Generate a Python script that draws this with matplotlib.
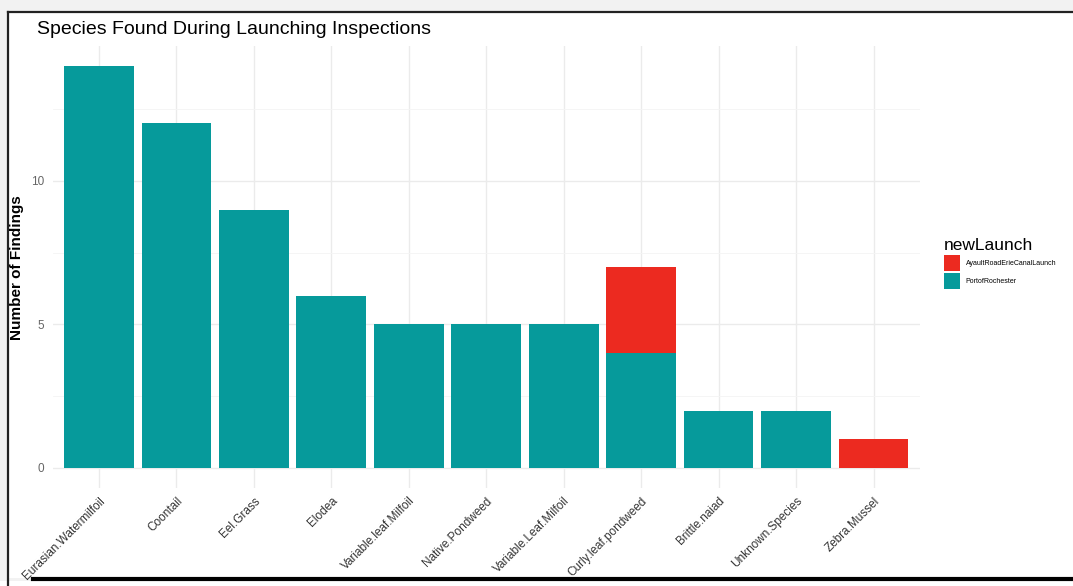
import matplotlib.pyplot as plt
from matplotlib.lines import Line2D
from matplotlib.patches import Patch, Rectangle
import numpy as np

OUT = "out.png"

SPECIES = [
    "Eurasian.Watermilfoil", "Coontail", "Eel.Grass", "Elodea",
    "Variable.leaf.Milfoil", "Native.Pondweed", "Variable.Leaf.Milfoil",
    "Curly.leaf.pondweed", "Brittle.naiad", "Unknown.Species", "Zebra.Mussel",
]
PORT_ROCHESTER = [14, 12, 9, 6, 5, 5, 5, 4, 2, 2, 0]
AYAULT_ROAD = [0, 0, 0, 0, 0, 0, 0, 3, 0, 0, 1]
LAUNCHES = ["AyaultRoadErieCanalLaunch", "PortofRochester"]

RED = "#EC2A20"
TEAL = "#069A9B"
GRID = "#ebebeb"
FONT = ["Liberation Sans", "DejaVu Sans"]

plt.rcParams["font.family"] = FONT

W, H = 1073, 586


def px(x, y):
    # pixel coords (from top-left) to figure fraction
    return x / W, 1 - y / H


def main():
    fig = plt.figure(figsize=(W / 100, H / 100), dpi=100)
    fig.patch.set_facecolor("#f2f2f2")

    # screenshot frame
    x0, y0 = px(8, 12)
    x1, y1 = px(W, 578)
    fig.add_artist(Rectangle((x0, y1), x1 - x0, y0 - y1, transform=fig.transFigure,
                             facecolor="white", edgecolor="none", zorder=-10))
    fig.add_artist(Line2D([x0, x0], [0, y0], transform=fig.transFigure,
                          color="#222222", lw=1.6))
    fig.add_artist(Line2D([x0, 1], [y0, y0], transform=fig.transFigure,
                          color="#222222", lw=1.6))
    bx, by = px(33, 579)
    fig.add_artist(Line2D([bx, 1], [by, by], transform=fig.transFigure,
                          color="black", lw=3))
    fig.add_artist(Rectangle((0, 0), 1, by - 0.003, transform=fig.transFigure,
                             facecolor="white", edgecolor="none", zorder=-9))

    left, top = px(52.5, 46)
    right, bottom = px(920, 488)
    ax = fig.add_axes([left, bottom, right - left, top - bottom])
    ax.set_facecolor("none")

    x = np.arange(len(SPECIES))
    port = np.array(PORT_ROCHESTER)
    ayault = np.array(AYAULT_ROAD)
    ax.bar(x, port, width=0.9, color=TEAL, zorder=3)
    ax.bar(x, ayault, width=0.9, bottom=port, color=RED, zorder=3)

    ax.set_xlim(-0.6, len(SPECIES) - 0.4)
    ax.set_ylim(-0.7, 14.7)
    ax.set_yticks([0, 5, 10])
    ax.set_yticks([2.5, 7.5, 12.5], minor=True)
    ax.set_xticks(x)
    ax.set_xticklabels(SPECIES, rotation=45, ha="right", rotation_mode="anchor",
                       fontsize=8.5, color="#333333")
    ax.tick_params(axis="both", which="both", length=0, pad=3)
    ax.tick_params(axis="y", labelsize=8.5, labelcolor="#666666", pad=6)
    ax.tick_params(axis="x", pad=5)
    ax.grid(True, which="major", color=GRID, lw=1.0, zorder=0)
    ax.grid(True, which="minor", axis="y", color="#f4f4f4", lw=0.6, zorder=0)
    for s in ax.spines.values():
        s.set_visible(False)

    fig.text(*px(17, 268), "Number of Findings", rotation=90, ha="center",
             va="center", fontsize=11, fontweight="bold", color="black")
    fig.text(*px(37, 29), "Species Found During Launching Inspections",
             ha="left", va="center", fontsize=14, color="black")

    handles = [Patch(facecolor=RED), Patch(facecolor=TEAL)]
    leg = fig.legend(handles, LAUNCHES, loc="upper left",
                     bbox_to_anchor=px(938, 232), frameon=False,
                     prop={"size": 5}, title="newLaunch",
                     title_fontproperties={"size": 12.5},
                     handlelength=2.4, handleheight=3.1, labelspacing=0.35,
                     handletextpad=0.8, borderpad=0.3)
    leg._legend_box.align = "left"

    fig.savefig(OUT, dpi=100, facecolor=fig.get_facecolor())


if __name__ == "__main__":
    main()
